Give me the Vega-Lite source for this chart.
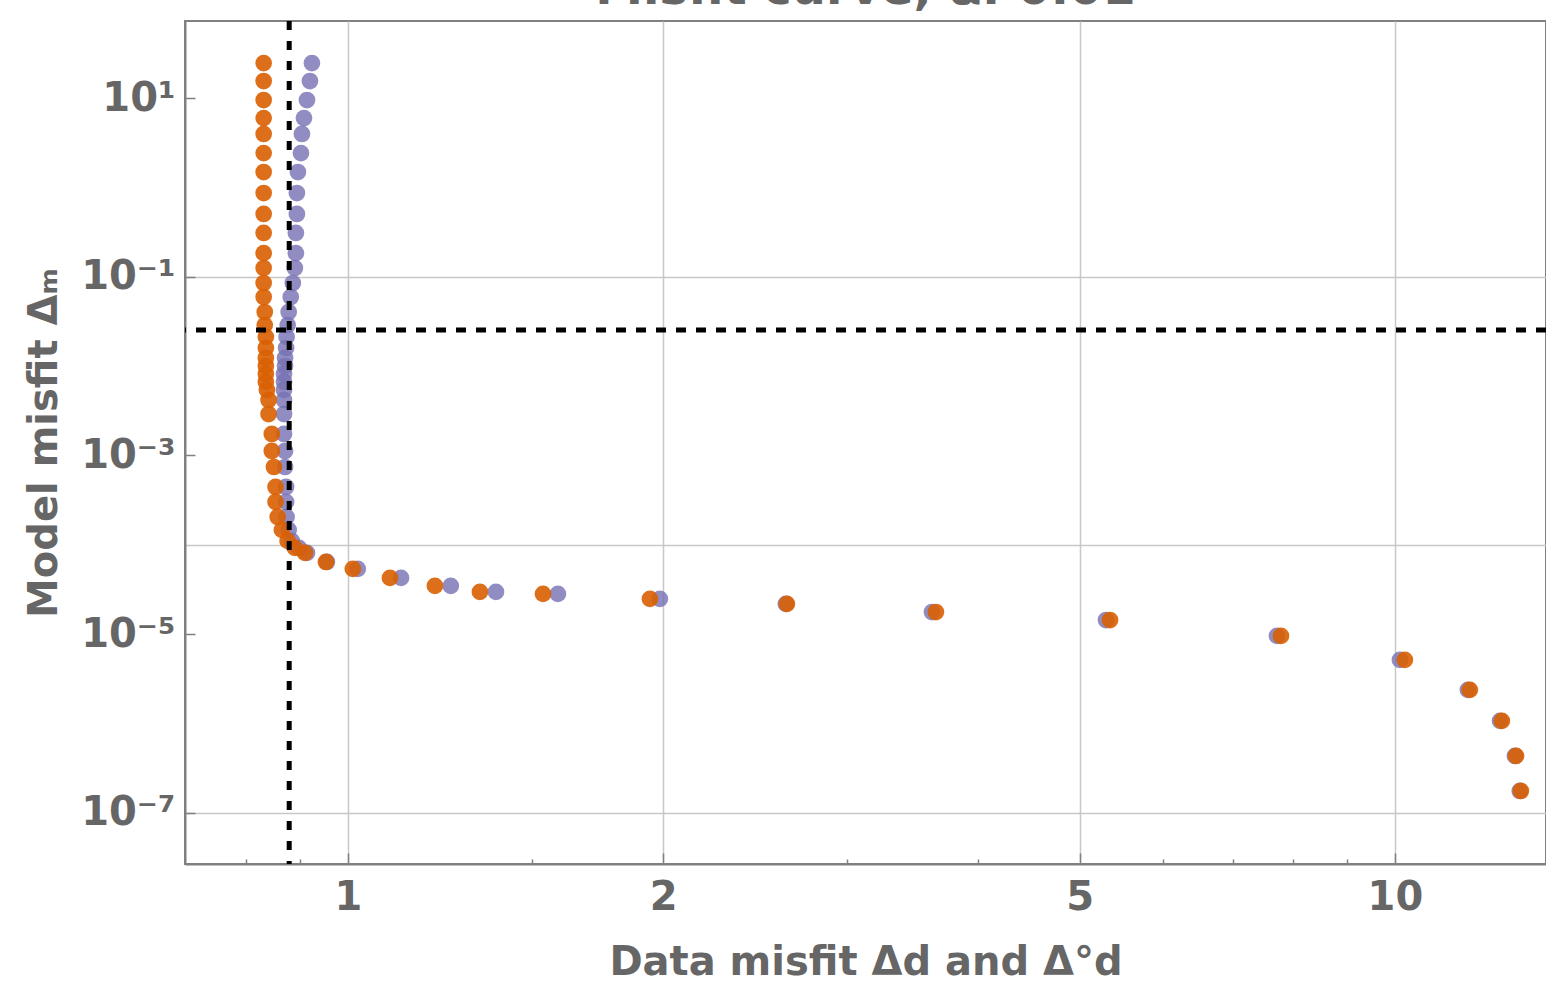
{
  "$schema": "https://vega.github.io/schema/vega-lite/v6.json",
  "autosize": "none",
  "padding": {"left": 185, "top": 21, "right": 0, "bottom": 123},
  "width": 1361,
  "height": 843,
  "title": {"text": "Misfit curve, α: 0.01", "fontSize": 48, "font": "DejaVu Sans", "fontWeight": "bold", "color": "#666666", "baseline": "alphabetic", "offset": -33, "anchor": "middle"},
  "config": {
    "view": {"stroke": "#808080", "strokeWidth": 2},
    "font": "DejaVu Sans",
    "axis": {
      "labelFont": "DejaVu Sans", "labelFontWeight": "bold", "labelFontSize": 40, "labelColor": "#666666",
      "titleFont": "DejaVu Sans", "titleFontWeight": "bold", "titleFontSize": 40, "titleColor": "#666666",
      "domainColor": "#808080", "domainWidth": 2, "tickColor": "#808080", "tickWidth": 1.5,
      "gridColor": "#c8c8c8", "gridWidth": 1.5,
      "labelOverlap": false, "labelBound": false, "labelFlush": false
    }
  },
  "datasets": {
    "misfit": [
      {"ym": 24.6, "xo": 0.831, "xp": 0.924},
      {"ym": 15.5, "xo": 0.831, "xp": 0.920},
      {"ym": 9.50, "xo": 0.831, "xp": 0.914},
      {"ym": 5.97, "xo": 0.831, "xp": 0.908},
      {"ym": 3.96, "xo": 0.831, "xp": 0.904},
      {"ym": 2.42, "xo": 0.831, "xp": 0.902},
      {"ym": 1.486, "xo": 0.831, "xp": 0.896},
      {"ym": 0.865, "xo": 0.831, "xp": 0.894},
      {"ym": 0.504, "xo": 0.831, "xp": 0.894},
      {"ym": 0.309, "xo": 0.831, "xp": 0.892},
      {"ym": 0.184, "xo": 0.831, "xp": 0.892},
      {"ym": 0.1253, "xo": 0.831, "xp": 0.890},
      {"ym": 0.0851, "xo": 0.831, "xp": 0.886},
      {"ym": 0.0593, "xo": 0.831, "xp": 0.882},
      {"ym": 0.0403, "xo": 0.833, "xp": 0.878},
      {"ym": 0.0288, "xo": 0.833, "xp": 0.876},
      {"ym": 0.0212, "xo": 0.835, "xp": 0.874},
      {"ym": 0.01595, "xo": 0.835, "xp": 0.873},
      {"ym": 0.01233, "xo": 0.835, "xp": 0.871},
      {"ym": 0.01003, "xo": 0.835, "xp": 0.871},
      {"ym": 0.00816, "xo": 0.835, "xp": 0.869},
      {"ym": 0.00665, "xo": 0.835, "xp": 0.869},
      {"ym": 0.00541, "xo": 0.837, "xp": 0.869},
      {"ym": 0.00418, "xo": 0.840, "xp": 0.869},
      {"ym": 0.00291, "xo": 0.840, "xp": 0.869},
      {"ym": 0.00174, "xo": 0.846, "xp": 0.869},
      {"ym": 0.001123, "xo": 0.846, "xp": 0.871},
      {"ym": 0.000743, "xo": 0.850, "xp": 0.871},
      {"ym": 0.000444, "xo": 0.853, "xp": 0.873},
      {"ym": 0.000302, "xo": 0.853, "xp": 0.873},
      {"ym": 0.000205, "xo": 0.857, "xp": 0.874},
      {"ym": 0.0001467, "xo": 0.865, "xp": 0.878},
      {"ym": 0.0001105, "xo": 0.876, "xp": 0.884},
      {"ym": 0.0000923, "xo": 0.890, "xp": 0.898},
      {"ym": 0.0000811, "xo": 0.910, "xp": 0.914},
      {"ym": 0.0000643, "xo": 0.953, "xp": 0.955},
      {"ym": 0.0000537, "xo": 1.011, "xp": 1.022},
      {"ym": 0.0000426, "xo": 1.097, "xp": 1.124},
      {"ym": 0.0000347, "xo": 1.211, "xp": 1.254},
      {"ym": 0.0000297, "xo": 1.337, "xp": 1.385},
      {"ym": 0.0000282, "xo": 1.536, "xp": 1.587},
      {"ym": 0.0000248, "xo": 1.943, "xp": 1.986},
      {"ym": 0.0000218, "xo": 2.626, "xp": 2.620},
      {"ym": 0.0000177, "xo": 3.644, "xp": 3.613},
      {"ym": 0.0000144, "xo": 5.344, "xp": 5.297},
      {"ym": 0.00000956, "xo": 7.783, "xp": 7.715},
      {"ym": 0.00000515, "xo": 10.22, "xp": 10.11},
      {"ym": 0.00000238, "xo": 11.79, "xp": 11.74},
      {"ym": 0.00000107, "xo": 12.65, "xp": 12.60},
      {"ym": 0.000000434, "xo": 13.05, "xp": 13.02},
      {"ym": 0.000000176, "xo": 13.19, "xp": 13.16}
    ],
    "vline": [{"x": 0.879}],
    "hline": [{"y": 0.02536}]
  },
  "layer": [
    {
      "data": {"name": "misfit"},
      "mark": {"type": "point", "filled": true, "size": 280, "color": "#7570B3", "opacity": 0.8},
      "encoding": {
        "x": {
          "field": "xp", "type": "quantitative",
          "scale": {"type": "log", "domain": [0.699, 13.94], "nice": false},
          "axis": {
            "title": "Data misfit Δd and Δ°d",
            "titlePadding": 19,
            "values": [0.8, 0.9, 1, 1.5, 2, 3, 4, 5, 6, 7, 8, 9, 10],
            "labelExpr": "(datum.value==1||datum.value==2||datum.value==5||datum.value==10) ? format(datum.value,'d') : ''",
            "labelPadding": 24,
            "tickSize": {"condition": {"test": "datum.value==1||datum.value==2||datum.value==5||datum.value==10", "value": -11}, "value": -5},
            "gridOpacity": {"condition": {"test": "datum.value==1||datum.value==2||datum.value==5||datum.value==10", "value": 1}, "value": 0}
          }
        },
        "y": {
          "field": "ym", "type": "quantitative",
          "scale": {"type": "log", "domain": [2.68e-8, 72.8], "nice": false},
          "axis": {
            "title": "Model misfit Δₘ",
            "titlePadding": 16,
            "values": [1e-7, 1e-5, 0.0001, 0.001, 0.1, 10],
            "labelExpr": "datum.value==10 ? '10¹' : datum.value==0.1 ? '10⁻¹' : datum.value==0.001 ? '10⁻³' : datum.value==0.00001 ? '10⁻⁵' : datum.value==1e-7 ? '10⁻⁷' : ''",
            "labelPadding": 20,
            "tickSize": -10,
            "tickOpacity": {"condition": {"test": "datum.value==0.0001", "value": 0}, "value": 1},
            "gridOpacity": {"condition": {"test": "datum.value==1e-7||datum.value==0.0001||datum.value==0.1", "value": 1}, "value": 0}
          }
        }
      }
    },
    {
      "data": {"name": "misfit"},
      "mark": {"type": "point", "filled": true, "size": 280, "color": "#D95F02", "opacity": 0.9},
      "encoding": {
        "x": {"field": "xo", "type": "quantitative"},
        "y": {"field": "ym", "type": "quantitative"}
      }
    },
    {
      "data": {"name": "vline"},
      "mark": {"type": "rule", "color": "black", "strokeWidth": 5, "strokeDash": [9, 11]},
      "encoding": {"x": {"field": "x", "type": "quantitative"}}
    },
    {
      "data": {"name": "hline"},
      "mark": {"type": "rule", "color": "black", "strokeWidth": 5, "strokeDash": [10, 10]},
      "encoding": {"y": {"field": "y", "type": "quantitative"}}
    }
  ]
}
